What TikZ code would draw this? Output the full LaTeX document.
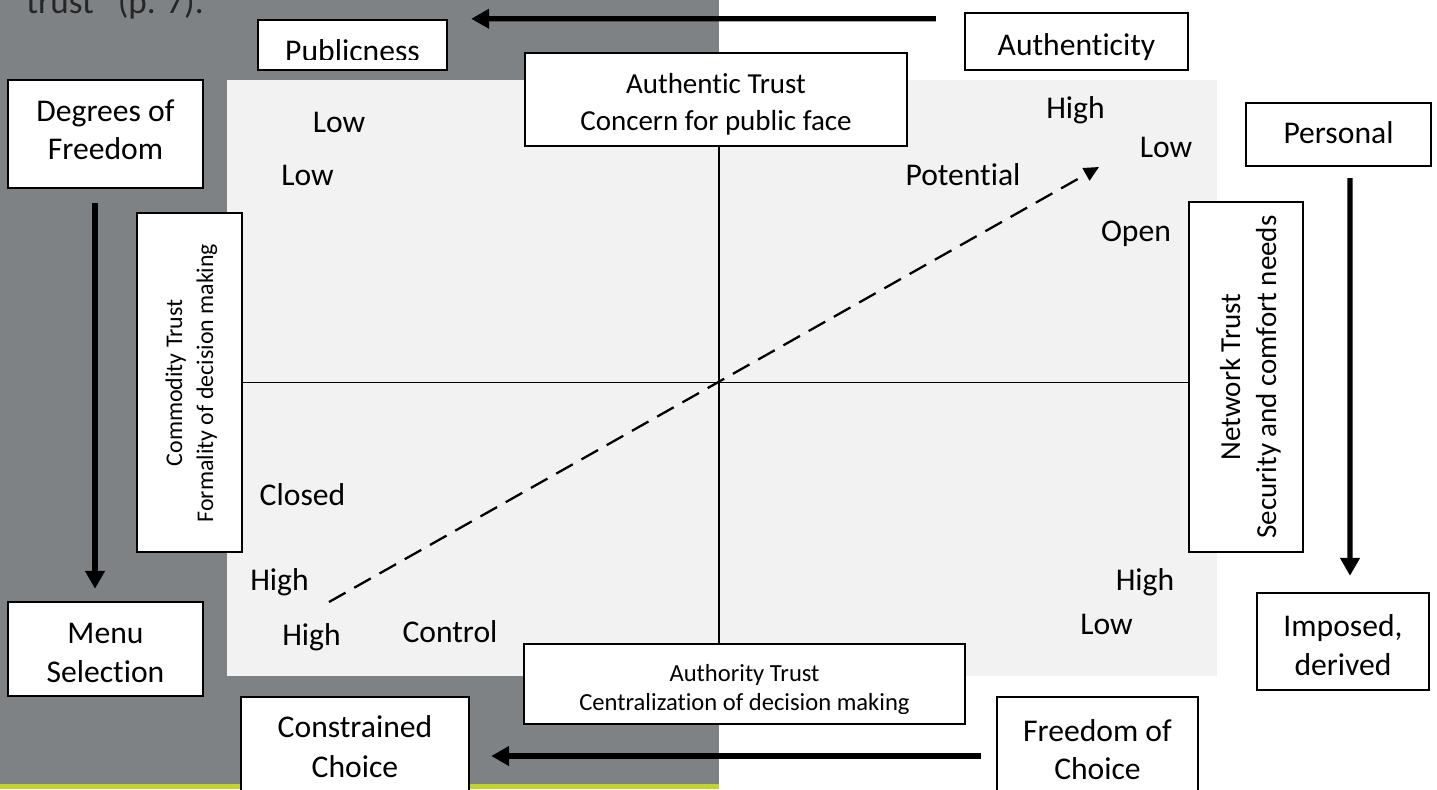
\documentclass[tikz,border=0pt]{standalone}
\usepackage{fontspec}
\setmainfont{Carlito}[Ligatures=NoCommon]
\usetikzlibrary{arrows.meta,calc}
\definecolor{slideGray}{RGB}{127,130,133}
\definecolor{panelGray}{RGB}{242,242,242}
\definecolor{slideLime}{RGB}{192,212,44}
\tikzset{
  box/.style={draw,line width=1.4pt,fill=white,inner sep=0pt},
  txt/.style={anchor=base,inner sep=0pt,font=\fontsize{18}{21.6}\selectfont},
  bigarrow/.style={-{Triangle[length=0.36cm,width=0.38cm]},line width=3pt},
  axis/.style={line width=0.8pt},
  trend/.style={-{Triangle[length=0.3cm,width=0.28cm]},line width=1.3pt,dash pattern=on 0.38cm off 0.2cm}
}

\begin{document}
\begin{tikzpicture}[x=0.02cm,y=-0.02cm]
\useasboundingbox (0,0) rectangle (1437,789);
\clip (0,0) rectangle (1437,789);

% slide background and the quadrant panel
\fill[slideGray] (0,0) rectangle (719,789);
\fill[slideLime] (0,784) rectangle (719,789);
\fill[panelGray] (227,80) rectangle (1217,676);
\node[anchor=base west,inner sep=0pt,font=\fontsize{20}{24}\selectfont,text=black!85] (quote) at (26,13) {trust” (p. 7).};

% boxes
\node[box,minimum width=3.78cm,minimum height=1cm] (publicness) at (352.5,45) {};
\node[box,minimum width=4.46cm,minimum height=1.14cm] (authenticity) at (1076.5,41.5) {};
\node[box,minimum width=3.9cm,minimum height=2.16cm] (degrees) at (105.5,134) {};
\node[box,minimum width=3.9cm,minimum height=1.88cm] (menu) at (105.5,649) {};
\node[box,minimum width=7.64cm,minimum height=1.86cm] (authentic) at (716,99.5) {};
\node[box,minimum width=8.82cm,minimum height=1.6cm] (authority) at (744.5,684) {};
\node[box,rotate=90,minimum width=6.78cm,minimum height=2.1cm] (commodity) at (189.5,382.5) {};
\node[box,rotate=90,minimum width=7cm,minimum height=2.28cm] (network) at (1246,377) {};
\node[box,minimum width=3.7cm,minimum height=1.26cm] (personal) at (1338.5,134.5) {};
\node[box,minimum width=3.44cm,minimum height=1.94cm] (imposed) at (1343,641.5) {};
\node[box,minimum width=4.56cm,minimum height=2.4cm] (constrained) at (355,757) {};
\node[box,minimum width=4.02cm,minimum height=2.4cm] (freedom) at (1097.5,757) {};

% axes and the dashed trend
\coordinate (centre) at (719,382);
\draw[axis] (commodity.south) -- (commodity.south -| network.north);
\draw[axis] (centre |- authentic.south) -- (centre |- authority.north);
\coordinate (trendStart) at (329,602);
\coordinate (trendEnd) at (1099,167);
\draw[trend] (trendStart) -- (trendEnd);

% thick arrows
\draw[bigarrow] ([xshift=-0.56cm,yshift=-0.14cm]authenticity.north west) -- ([xshift=0.46cm]publicness.north east);
\draw[bigarrow] ([xshift=-0.21cm,yshift=-0.28cm]degrees.south) -- ([xshift=-0.21cm,yshift=0.24cm]menu.north);
\draw[bigarrow] ([xshift=0.23cm,yshift=-0.22cm]personal.south) -- ([xshift=0.14cm,yshift=0.32cm]imposed.north);
\draw[bigarrow] ([xshift=-0.3cm,yshift=0.02cm]freedom.west) -- ([xshift=0.42cm,yshift=0.02cm]constrained.east);

% box texts
\begin{scope}
\clip (258,20) rectangle (447,59);
\node[txt] (publicnessText) at (352.5,61) {Publicness};
\end{scope}
\node[txt] (authenticityText) at (1076.5,55) {Authenticity};
\node[txt] (degreesA) at (105.5,121) {Degrees of};
\node[txt] (degreesB) at (105.5,159) {Freedom};
\node[txt] (menuA) at (105.5,643) {Menu};
\node[txt] (menuB) at (105.5,682) {Selection};
\node[txt] (personalText) at (1338.5,143) {Personal};
\node[txt] (imposedA) at (1343,636) {Imposed,};
\node[txt] (imposedB) at (1343,675) {derived};
\node[txt] (constrainedA) at (355,737) {Constrained};
\node[txt] (constrainedB) at (355,777) {Choice};
\node[txt] (freedomA) at (1097.5,741) {Freedom of};
\node[txt] (freedomB) at (1097.5,779) {Choice};
\node[txt,font=\fontsize{16.5}{20}\selectfont] (authenticA) at (716,93) {Authentic Trust};
\node[txt,font=\fontsize{16.5}{20}\selectfont] (authenticB) at (716,130) {Concern for public face};
\begin{scope}
\clip (525,645) rectangle (964,713);
\node[txt,font=\fontsize{14}{17}\selectfont] (authorityA) at (744.5,681) {Authority Trust};
\node[txt,font=\fontsize{14}{17}\selectfont] (authorityB) at (744.5,710) {Centralization of decision making};
\end{scope}
\node[txt,rotate=90,font=\fontsize{13.6}{16}\selectfont] (commodityA) at (182,383) {Commodity Trust};
\node[txt,rotate=90,font=\fontsize{13.6}{16}\selectfont] (commodityB) at (213,383) {Formality of decision making};
\node[txt,rotate=90,font=\fontsize{16.5}{20}\selectfont] (networkA) at (1240,377) {Network Trust};
\node[txt,rotate=90,font=\fontsize{16.5}{20}\selectfont] (networkB) at (1276,377) {Security and comfort needs};

% quadrant labels
\node[txt] (lowA) at (339,132) {Low};
\node[txt] (lowB) at (307.5,185) {Low};
\node[txt] (highA) at (1075.5,118) {High};
\node[txt] (lowC) at (1166,157) {Low};
\node[txt] (potential) at (963,185) {Potential};
\node[txt] (open) at (1136,241) {Open};
\node[txt] (closed) at (302.5,505) {Closed};
\node[txt] (highB) at (279.5,590) {High};
\node[txt] (highC) at (311.5,645) {High};
\node[txt] (control) at (450,642) {Control};
\node[txt] (highD) at (1145,590) {High};
\node[txt] (lowD) at (1106.5,634) {Low};
\end{tikzpicture}
\end{document}
